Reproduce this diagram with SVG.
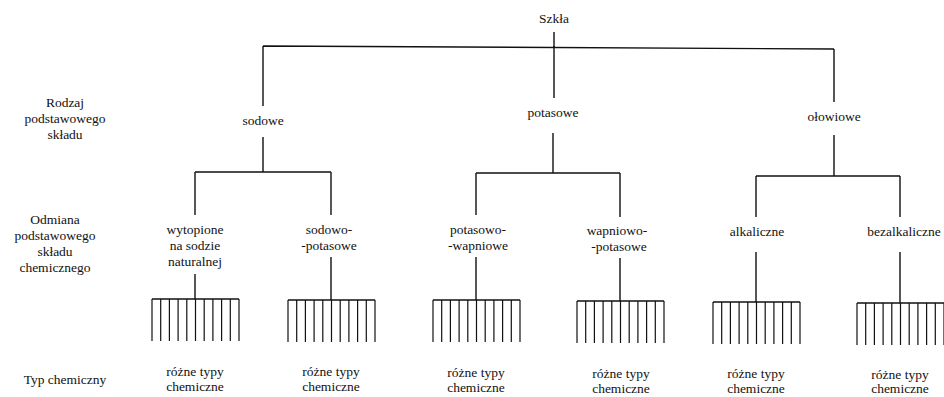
<svg xmlns="http://www.w3.org/2000/svg" width="944" height="397" viewBox="0 0 944 397">
<defs>
<style>
text{font-family:"Liberation Serif","DejaVu Serif","Times New Roman",serif;font-size:13.5px;fill:#111;text-anchor:middle}
.ln{stroke:#111;stroke-width:1.4;fill:none}
.tine{stroke:#111;stroke-width:1.2;fill:none}
</style>
<g id="comb">
<path class="ln" d="M0,0 H87"/>
<path class="tine" d="M0,0 V42 M8.7,0 V42 M17.4,0 V42 M26.1,0 V42 M34.8,0 V42 M43.5,0 V42 M52.2,0 V42 M60.9,0 V42 M69.6,0 V42 M78.3,0 V42 M87,0 V42"/>
</g>
</defs>
<rect width="944" height="397" fill="#fff"/>
<g id="legend" font-family="Liberation Serif, serif">
<text x="65" y="107">Rodzaj</text>
<text x="65" y="123">podstawowego</text>
<text x="65" y="139">składu</text>
<text x="55" y="224">Odmiana</text>
<text x="55" y="240">podstawowego</text>
<text x="55" y="256">składu</text>
<text x="55" y="272">chemicznego</text>
<text x="65" y="384">Typ chemiczny</text>
</g>
<g id="connectors">
<path class="ln" d="M554,32 V98 M263,46 L834,49 M263,46 V106 M834,49 V102"/>
<path class="ln" d="M263,137 V172 M195,172 H331 M195,172 V215 M331,172 V215"/>
<path class="ln" d="M553,133 V173 M476,173 H620 M476,173 V215 M620,173 V217"/>
<path class="ln" d="M834,135 V176 M756,176 H900 M756,176 V217 M900,176 V217"/>
<path class="ln" d="M195,274 V299 M331,257 V300 M476,257 V300 M620,258 V301 M756,252 V302 M900,252 V303"/>
</g>
<g id="root"><text x="554" y="23">Szkła</text></g>
<g id="sodowe"><text x="263" y="125">sodowe</text></g>
<g id="potasowe"><text x="553" y="117">potasowe</text></g>
<g id="olowiowe"><text x="834" y="121">ołowiowe</text></g>
<g id="wytopione"><text x="195" y="234">wytopione</text><text x="195" y="250">na sodzie</text><text x="195" y="266">naturalnej</text></g>
<g id="sodowo-potasowe"><text x="329" y="234">sodowo-</text><text x="329" y="250">-potasowe</text></g>
<g id="potasowo-wapniowe"><text x="478" y="234">potasowo-</text><text x="478" y="250">-wapniowe</text></g>
<g id="wapniowo-potasowe"><text x="617" y="235">wapniowo-</text><text x="619" y="251">-potasowe</text></g>
<g id="alkaliczne"><text x="757" y="236">alkaliczne</text></g>
<g id="bezalkaliczne"><text x="904" y="236">bezalkaliczne</text></g>
<g id="comb1"><use href="#comb" x="152" y="299"/><text x="195" y="376">różne typy</text><text x="195" y="391">chemiczne</text></g>
<g id="comb2"><use href="#comb" x="288" y="300"/><text x="331" y="376">różne typy</text><text x="331" y="391">chemiczne</text></g>
<g id="comb3"><use href="#comb" x="433" y="300"/><text x="476" y="377">różne typy</text><text x="476" y="392">chemiczne</text></g>
<g id="comb4"><use href="#comb" x="577" y="301"/><text x="621" y="378">różne typy</text><text x="621" y="393">chemiczne</text></g>
<g id="comb5"><use href="#comb" x="713" y="302"/><text x="756" y="378">różne typy</text><text x="756" y="393">chemiczne</text></g>
<g id="comb6"><use href="#comb" x="857" y="303"/><text x="900" y="379">różne typy</text><text x="900" y="393">chemiczne</text></g>
</svg>
